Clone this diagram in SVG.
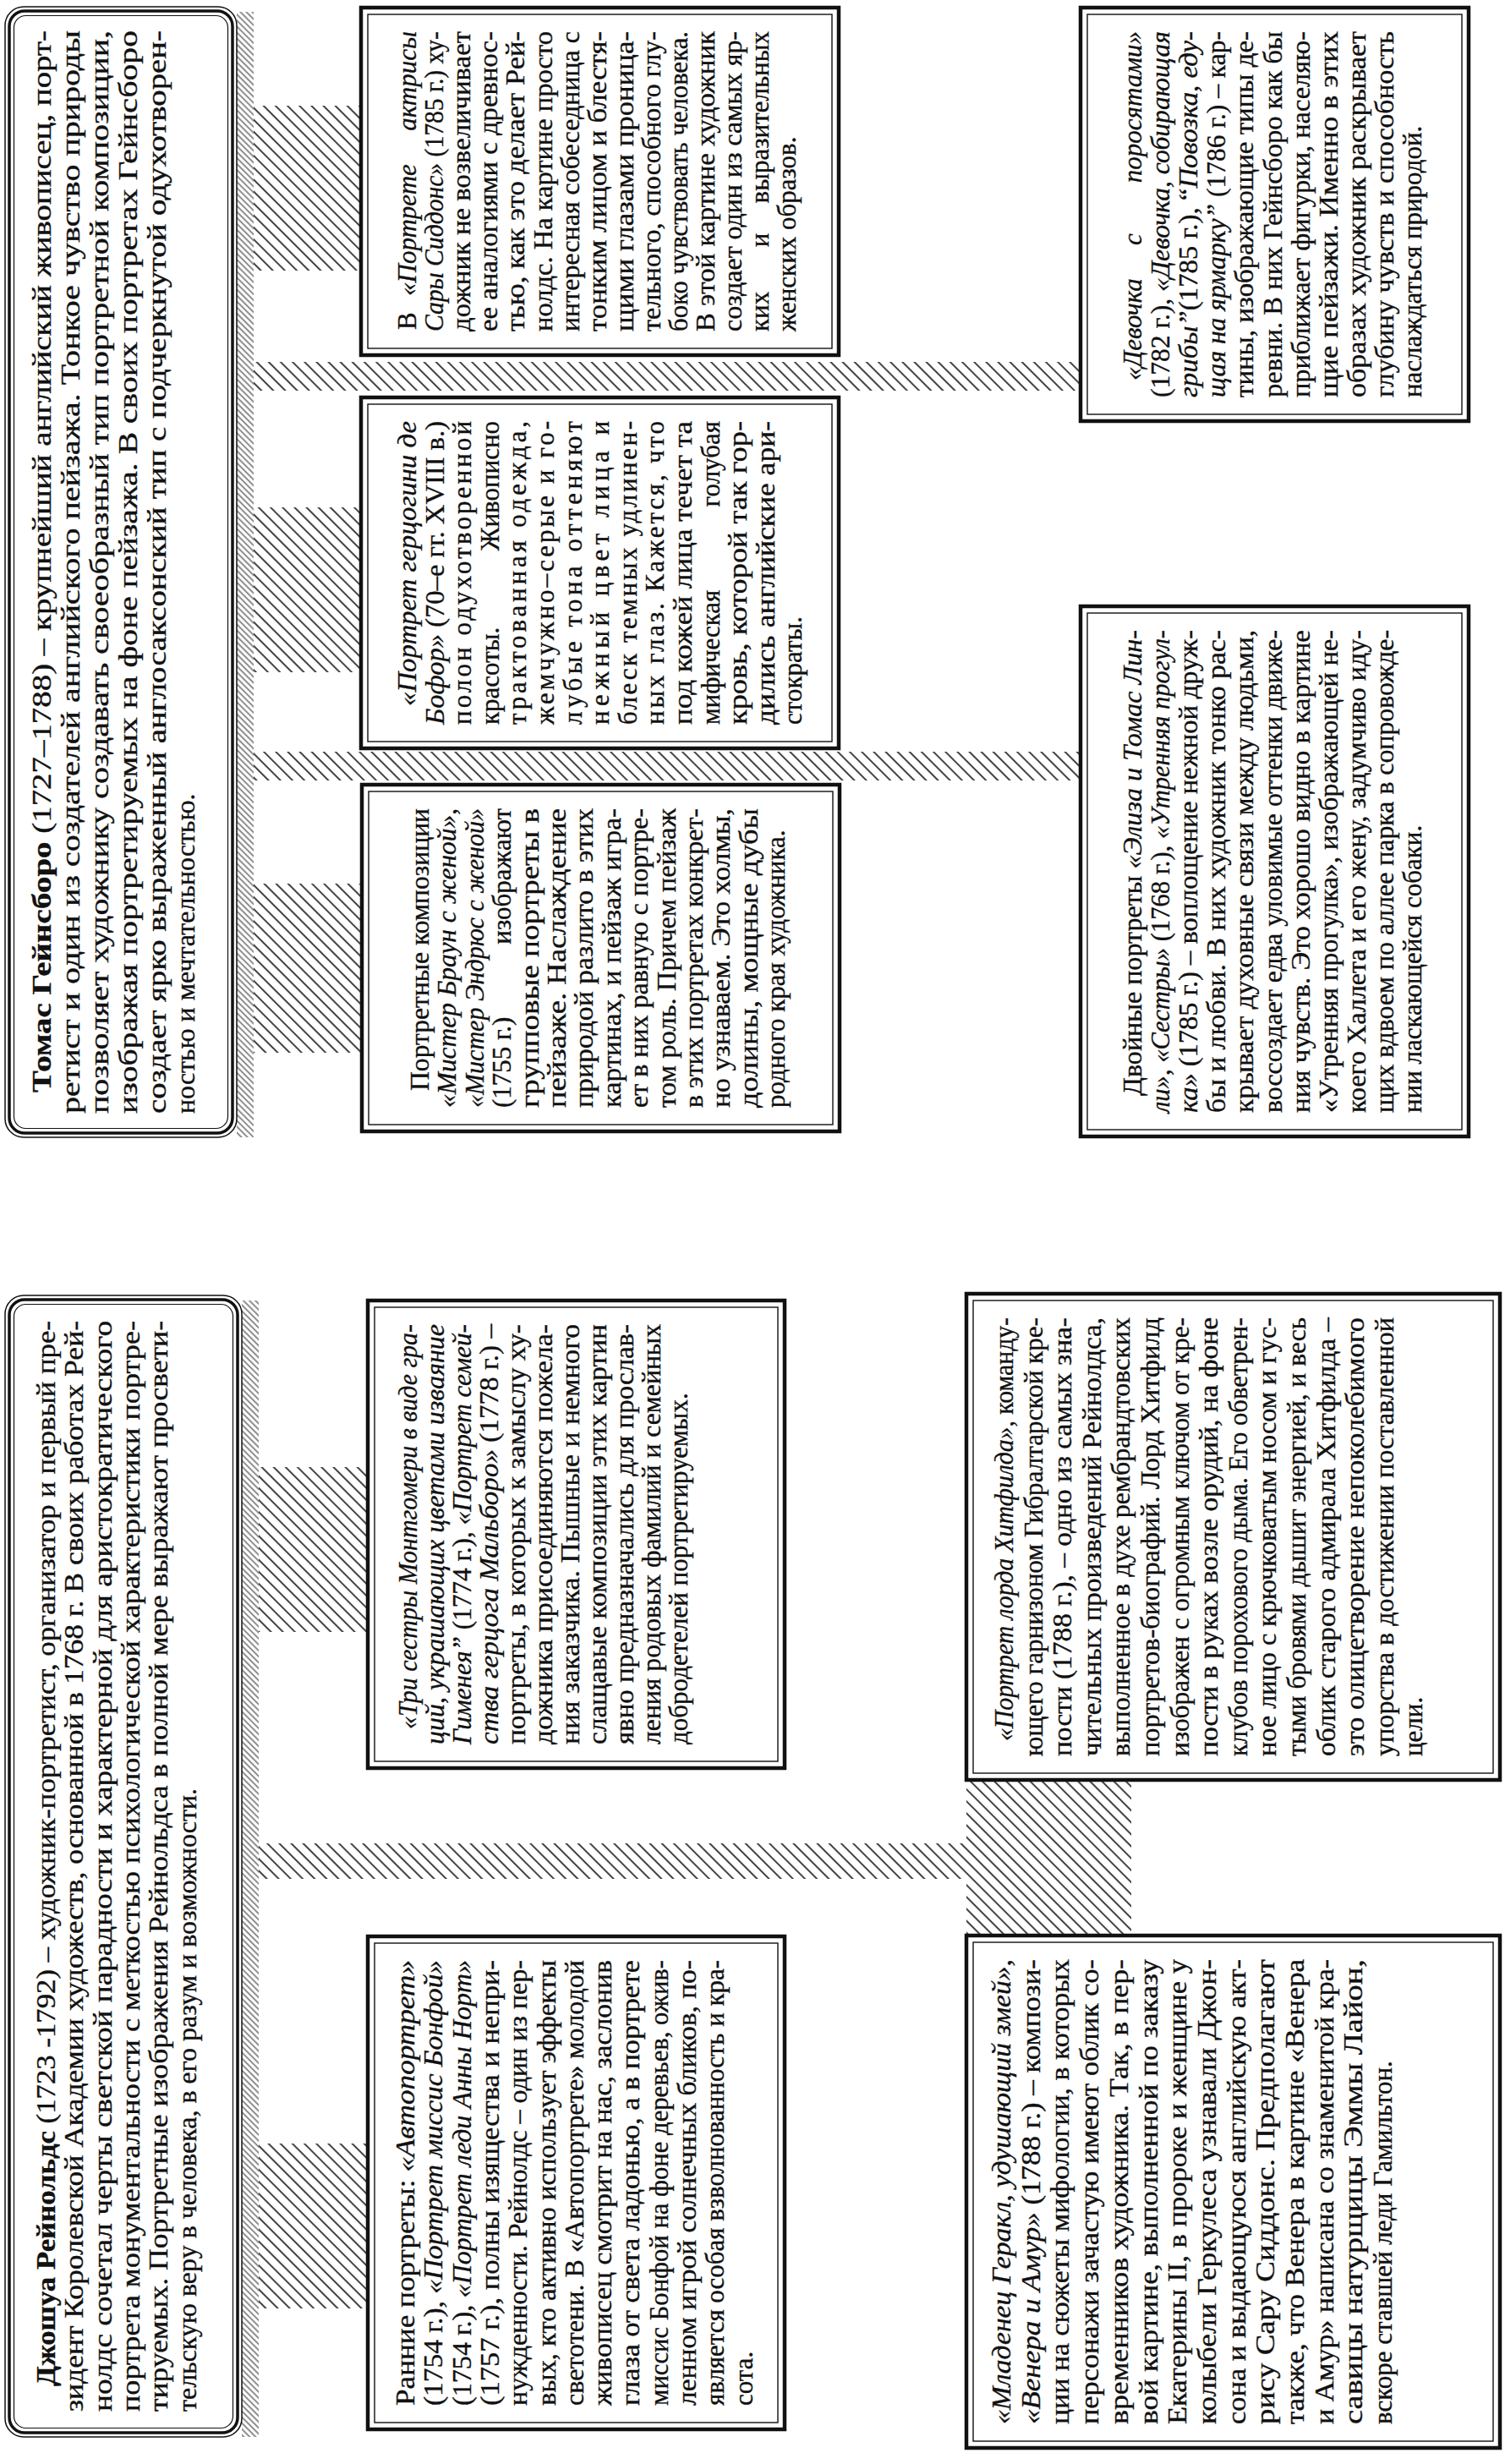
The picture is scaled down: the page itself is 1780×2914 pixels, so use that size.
<svg xmlns="http://www.w3.org/2000/svg" width="1780" height="2914" viewBox="0 0 1780 2914">
<defs>
<style>
.t{font-family:"Liberation Serif","Times New Roman",serif;font-size:31px;fill:#111;stroke:#111;stroke-width:0.35}
.tt{font-family:"Liberation Serif","Times New Roman",serif;font-size:32px;fill:#111;stroke:#111;stroke-width:0.35}
.i{font-style:italic}
.b{font-weight:bold}
.bo{fill:#fff;stroke:#111;stroke-width:4.5}
.bi{fill:none;stroke:#111;stroke-width:1.4}
.h{fill:url(#hatch)}
.d{fill:url(#dense)}
</style>
<pattern id="hatch" width="10" height="10" patternUnits="userSpaceOnUse" patternTransform="rotate(-45)"><line x1="2" y1="0" x2="2" y2="10" stroke="#222" stroke-width="1.7"/></pattern>
<pattern id="dense" width="5" height="5" patternUnits="userSpaceOnUse" patternTransform="rotate(-45)"><line x1="1" y1="0" x2="1" y2="5" stroke="#333" stroke-width="1.1"/></pattern>
</defs>
<rect width="1780" height="2914" fill="#fff"/>

<g id="connectors">
<rect class="d" x="280" y="14" width="20" height="1331"/>
<rect class="d" x="286" y="1538" width="20" height="1344"/>
<rect class="h" x="300" y="125" width="127" height="195"/>
<rect class="h" x="300" y="600" width="127" height="195"/>
<rect class="h" x="300" y="1045" width="128" height="200"/>
<rect class="h" x="306" y="1735" width="129" height="195"/>
<rect class="h" x="306" y="2535" width="129" height="195"/>
<rect class="h" x="300" y="428" width="978" height="34"/>
<rect class="h" x="300" y="889" width="978" height="34"/>
<rect class="h" x="306" y="2180" width="837" height="42"/>
<rect class="h" x="1143" y="2105" width="195" height="184"/>
</g>

<g id="gainsborough">
<rect x="6" y="8" width="274" height="1337" rx="22" fill="#fff" stroke="#111" stroke-width="1.5"/>
<rect x="11" y="13" width="264" height="1327" rx="18" fill="none" stroke="#111" stroke-width="3.5"/>
<rect x="16.5" y="18.5" width="253" height="1316" rx="14" fill="none" stroke="#111" stroke-width="1.2"/>
<g class="tt" transform="translate(8,1345) rotate(-90)">
<text x="53" y="52" textLength="1256" lengthAdjust="spacingAndGlyphs"><tspan class="b">Томас Гейнсборо</tspan> (1727–1788) – крупнейший английский живописец, порт-</text>
<text x="28" y="86" textLength="1281" lengthAdjust="spacingAndGlyphs">ретист и один из создателей английского пейзажа. Тонкое чувство природы</text>
<text x="28" y="120" textLength="1281" lengthAdjust="spacingAndGlyphs">позволяет художнику создавать своеобразный тип портретной композиции,</text>
<text x="28" y="154" textLength="1281" lengthAdjust="spacingAndGlyphs">изображая портретируемых на фоне пейзажа. В своих портретах Гейнсборо</text>
<text x="28" y="188" textLength="1281" lengthAdjust="spacingAndGlyphs">создает ярко выраженный англосаксонский тип с подчеркнутой одухотворен-</text>
<text x="28" y="222">ностью и мечтательностью.</text>
</g>
</g>

<g id="reynolds">
<rect x="6" y="1532" width="280" height="1350" rx="22" fill="#fff" stroke="#111" stroke-width="1.5"/>
<rect x="11" y="1537" width="270" height="1340" rx="18" fill="none" stroke="#111" stroke-width="3.5"/>
<rect x="16.5" y="1542.5" width="259" height="1329" rx="14" fill="none" stroke="#111" stroke-width="1.2"/>
<g class="tt" transform="translate(8,2882) rotate(-90)">
<text x="60" y="57" textLength="1260" lengthAdjust="spacingAndGlyphs"><tspan class="b">Джошуа Рейнольдс</tspan> (1723 -1792) – художник-портретист, организатор и первый пре-</text>
<text x="30" y="90.3" textLength="1290" lengthAdjust="spacingAndGlyphs">зидент Королевской Академии художеств, основанной в 1768 г. В своих работах Рей-</text>
<text x="30" y="123.6" textLength="1290" lengthAdjust="spacingAndGlyphs">нолдс сочетал черты светской парадности и характерной для аристократического</text>
<text x="30" y="156.9" textLength="1290" lengthAdjust="spacingAndGlyphs">портрета монументальности с меткостью психологической характеристики портре-</text>
<text x="30" y="190.2" textLength="1290" lengthAdjust="spacingAndGlyphs">тируемых. Портретные изображения Рейнольдса в полной мере выражают просвети-</text>
<text x="30" y="223.5">тельскую веру в человека, в его разум и возможности.</text>
</g>
</g>

<g id="siddons">
<rect class="bo" x="427" y="9" width="565" height="411"/>
<rect class="bi" x="435" y="17" width="549" height="395"/>
<g class="t" transform="translate(429,420) rotate(-90)">
<text x="30" y="63">В</text><text x="70" y="63" class="i">«Портрете</text><text x="383" y="63" class="i" text-anchor="end">актрисы</text>
<text x="28" y="95.1" textLength="355" lengthAdjust="spacingAndGlyphs"><tspan class="i">Сары Сиддонс»</tspan> (1785 г.) ху-</text>
<text x="28" y="127.2" textLength="355" lengthAdjust="spacingAndGlyphs">дожник не возвеличивает</text>
<text x="28" y="159.3" textLength="355" lengthAdjust="spacingAndGlyphs">ее аналогиями с древнос-</text>
<text x="28" y="191.4" textLength="355" lengthAdjust="spacingAndGlyphs">тью, как это делает Рей-</text>
<text x="28" y="223.5" textLength="355" lengthAdjust="spacingAndGlyphs">нолдс. На картине просто</text>
<text x="28" y="255.6" textLength="355" lengthAdjust="spacingAndGlyphs">интересная собеседница с</text>
<text x="28" y="287.7" textLength="355" lengthAdjust="spacingAndGlyphs">тонким лицом и блестя-</text>
<text x="28" y="319.8" textLength="355" lengthAdjust="spacingAndGlyphs">щими глазами проница-</text>
<text x="28" y="351.9" textLength="355" lengthAdjust="spacingAndGlyphs">тельного, способного глу-</text>
<text x="28" y="384" textLength="355" lengthAdjust="spacingAndGlyphs">боко чувствовать человека.</text>
<text x="28" y="416.1" textLength="355" lengthAdjust="spacingAndGlyphs">В этой картине художник</text>
<text x="28" y="448.2" textLength="355" lengthAdjust="spacingAndGlyphs">создает один из самых яр-</text>
<text x="28" y="480.3">ких</text><text x="136" y="480.3" text-anchor="middle">и</text><text x="383" y="480.3" text-anchor="end">выразительных</text>
<text x="28" y="512.4">женских образов.</text>
</g>
</g>

<g id="beaufort">
<rect class="bo" x="427" y="470" width="565" height="415"/>
<rect class="bi" x="435" y="478" width="549" height="399"/>
<g class="t" transform="translate(429,885) rotate(-90)">
<text x="50" y="63" textLength="337" lengthAdjust="spacingAndGlyphs" class="i">«Портрет герцогини де</text>
<text x="28" y="95.6" textLength="359" lengthAdjust="spacingAndGlyphs"><tspan class="i">Бофор»</tspan> (70–е гг. XVIII в.)</text>
<text x="28" y="128.2" textLength="359" lengthAdjust="spacing">полон одухотворенной</text>
<text x="28" y="160.8">красоты.</text><text x="387" y="160.8" text-anchor="end">Живописно</text>
<text x="28" y="193.4" textLength="359" lengthAdjust="spacing">трактованная одежда,</text>
<text x="28" y="226" textLength="359" lengthAdjust="spacing">жемчужно–серые и го-</text>
<text x="28" y="258.6" textLength="359" lengthAdjust="spacing">лубые тона оттеняют</text>
<text x="28" y="291.2" textLength="359" lengthAdjust="spacing">нежный цвет лица и</text>
<text x="28" y="323.8" textLength="359" lengthAdjust="spacing">блеск темных удлинен-</text>
<text x="28" y="356.4" textLength="359" lengthAdjust="spacing">ных глаз. Кажется, что</text>
<text x="28" y="389" textLength="359" lengthAdjust="spacingAndGlyphs">под кожей лица течет та</text>
<text x="28" y="421.6">мифическая</text><text x="387" y="421.6" text-anchor="end">голубая</text>
<text x="28" y="454.2" textLength="359" lengthAdjust="spacingAndGlyphs">кровь, которой так гор-</text>
<text x="28" y="486.8" textLength="359" lengthAdjust="spacingAndGlyphs">дились английские ари-</text>
<text x="28" y="519.4">стократы.</text>
</g>
</g>

<g id="group-portraits">
<rect class="bo" x="428" y="928" width="565" height="410"/>
<rect class="bi" x="436" y="936" width="549" height="394"/>
<g class="t" transform="translate(430,1338) rotate(-90)">
<text x="48" y="77" textLength="334" lengthAdjust="spacingAndGlyphs">Портретные композиции</text>
<text x="28" y="109.4" textLength="354" lengthAdjust="spacingAndGlyphs"><tspan class="i">«Мистер Браун с женой»</tspan>,</text>
<text x="28" y="141.8" textLength="354" lengthAdjust="spacingAndGlyphs" class="i">«Мистер Эндрюс с женой»</text>
<text x="28" y="174.2">(1755 г.)</text><text x="382" y="174.2" text-anchor="end">изображают</text>
<text x="28" y="206.6" textLength="354" lengthAdjust="spacingAndGlyphs">групповые портреты в</text>
<text x="28" y="239" textLength="354" lengthAdjust="spacingAndGlyphs">пейзаже. Наслаждение</text>
<text x="28" y="271.4" textLength="354" lengthAdjust="spacingAndGlyphs">природой разлито в этих</text>
<text x="28" y="303.8" textLength="354" lengthAdjust="spacingAndGlyphs">картинах, и пейзаж игра-</text>
<text x="28" y="336.2" textLength="354" lengthAdjust="spacingAndGlyphs">ет в них равную с портре-</text>
<text x="28" y="368.6" textLength="354" lengthAdjust="spacingAndGlyphs">том роль. Причем пейзаж</text>
<text x="28" y="401" textLength="354" lengthAdjust="spacingAndGlyphs">в этих портретах конкрет-</text>
<text x="28" y="433.4" textLength="354" lengthAdjust="spacingAndGlyphs">но узнаваем. Это холмы,</text>
<text x="28" y="465.8" textLength="354" lengthAdjust="spacingAndGlyphs">долины, мощные дубы</text>
<text x="28" y="498.2">родного края художника.</text>
</g>
</g>

<g id="girl-with-pigs">
<rect class="bo" x="1278" y="9" width="459" height="489"/>
<rect class="bi" x="1286" y="17" width="443" height="473"/>
<g class="t" transform="translate(1280,498) rotate(-90)">
<text x="48" y="70" class="i">«Девочка</text><text x="215" y="70" class="i" text-anchor="middle">с</text><text x="461" y="70" class="i" text-anchor="end">поросятами»</text>
<text x="28" y="103.1" textLength="433" lengthAdjust="spacingAndGlyphs">(1782 г.), <tspan class="i">«Девочка, собирающая</tspan></text>
<text x="28" y="136.2" textLength="433" lengthAdjust="spacingAndGlyphs"><tspan class="i">грибы”</tspan>(1785 г.), “<tspan class="i">Повозка, еду-</tspan></text>
<text x="28" y="169.3" textLength="433" lengthAdjust="spacingAndGlyphs"><tspan class="i">щая на ярмарку”</tspan> (1786 г.) – кар-</text>
<text x="28" y="202.4" textLength="433" lengthAdjust="spacingAndGlyphs">тины, изображающие типы де-</text>
<text x="28" y="235.5" textLength="433" lengthAdjust="spacingAndGlyphs">ревни. В них Гейнсборо как бы</text>
<text x="28" y="268.6" textLength="433" lengthAdjust="spacingAndGlyphs">приближает фигурки, населяю-</text>
<text x="28" y="301.7" textLength="433" lengthAdjust="spacingAndGlyphs">щие пейзажи. Именно в этих</text>
<text x="28" y="334.8" textLength="433" lengthAdjust="spacingAndGlyphs">образах художник раскрывает</text>
<text x="28" y="367.9" textLength="433" lengthAdjust="spacingAndGlyphs">глубину чувств и способность</text>
<text x="28" y="401">наслаждаться природой.</text>
</g>
</g>

<g id="double-portraits">
<rect class="bo" x="1278" y="717" width="459" height="627"/>
<rect class="bi" x="1286" y="725" width="443" height="611"/>
<g class="t" transform="translate(1280,1344) rotate(-90)">
<text x="48" y="70" textLength="551" lengthAdjust="spacingAndGlyphs">Двойные портреты <tspan class="i">«Элиза и Томас Лин-</tspan></text>
<text x="28" y="103.1" textLength="571" lengthAdjust="spacingAndGlyphs"><tspan class="i">ли»</tspan>, <tspan class="i">«Сестры»</tspan> (1768 г.), <tspan class="i">«Утренняя прогул-</tspan></text>
<text x="28" y="136.2" textLength="571" lengthAdjust="spacingAndGlyphs"><tspan class="i">ка»</tspan> (1785 г.) – воплощение нежной друж-</text>
<text x="28" y="169.3" textLength="571" lengthAdjust="spacingAndGlyphs">бы и любви. В них художник тонко рас-</text>
<text x="28" y="202.4" textLength="571" lengthAdjust="spacingAndGlyphs">крывает духовные связи между людьми,</text>
<text x="28" y="235.5" textLength="571" lengthAdjust="spacingAndGlyphs">воссоздает едва уловимые оттенки движе-</text>
<text x="28" y="268.6" textLength="571" lengthAdjust="spacingAndGlyphs">ния чувств. Это хорошо видно в картине</text>
<text x="28" y="301.7" textLength="571" lengthAdjust="spacingAndGlyphs">«Утренняя прогулка», изображающей не-</text>
<text x="28" y="334.8" textLength="571" lengthAdjust="spacingAndGlyphs">коего Халлета и его жену, задумчиво иду-</text>
<text x="28" y="367.9" textLength="571" lengthAdjust="spacingAndGlyphs">щих вдвоем по аллее парка в сопровожде-</text>
<text x="28" y="401">нии ласкающейся собаки.</text>
</g>
</g>

<g id="three-sisters">
<rect class="bo" x="435" y="1538" width="493" height="553"/>
<rect class="bi" x="443" y="1546" width="477" height="537"/>
<g class="t" transform="translate(437,2091) rotate(-90)">
<text x="46" y="56" textLength="479" lengthAdjust="spacingAndGlyphs" class="i">«Три сестры Монтгомери в виде гра-</text>
<text x="28" y="88" textLength="497" lengthAdjust="spacingAndGlyphs" class="i">ций, украшающих цветами изваяние</text>
<text x="28" y="120" textLength="497" lengthAdjust="spacingAndGlyphs"><tspan class="i">Гименея”</tspan> (1774 г.), <tspan class="i">«Портрет семей-</tspan></text>
<text x="28" y="152" textLength="497" lengthAdjust="spacingAndGlyphs"><tspan class="i">ства герцога Мальборо»</tspan> (1778 г.) –</text>
<text x="28" y="184" textLength="497" lengthAdjust="spacingAndGlyphs">портреты, в которых к замыслу ху-</text>
<text x="28" y="216" textLength="497" lengthAdjust="spacingAndGlyphs">дожника присоединяются пожела-</text>
<text x="28" y="248" textLength="497" lengthAdjust="spacingAndGlyphs">ния заказчика. Пышные и немного</text>
<text x="28" y="280" textLength="497" lengthAdjust="spacingAndGlyphs">слащавые композиции этих картин</text>
<text x="28" y="312" textLength="497" lengthAdjust="spacingAndGlyphs">явно предназначались для прослав-</text>
<text x="28" y="344" textLength="497" lengthAdjust="spacingAndGlyphs">ления родовых фамилий и семейных</text>
<text x="28" y="376">добродетелей портретируемых.</text>
</g>
</g>

<g id="early-portraits">
<rect class="bo" x="435" y="2290" width="493" height="583"/>
<rect class="bi" x="443" y="2298" width="477" height="567"/>
<g class="t" transform="translate(437,2873) rotate(-90)">
<text x="28" y="53" textLength="527" lengthAdjust="spacingAndGlyphs">Ранние портреты: <tspan class="i">«Автопортрет»</tspan></text>
<text x="28" y="86.3" textLength="527" lengthAdjust="spacingAndGlyphs">(1754 г.), <tspan class="i">«Портрет миссис Бонфой»</tspan></text>
<text x="28" y="119.6" textLength="527" lengthAdjust="spacingAndGlyphs">(1754 г.), <tspan class="i">«Портрет леди Анны Норт»</tspan></text>
<text x="28" y="152.9" textLength="527" lengthAdjust="spacingAndGlyphs">(1757 г.), полны изящества и непри-</text>
<text x="28" y="186.2" textLength="527" lengthAdjust="spacingAndGlyphs">нужденности. Рейнолдс – один из пер-</text>
<text x="28" y="219.5" textLength="527" lengthAdjust="spacingAndGlyphs">вых, кто активно использует эффекты</text>
<text x="28" y="252.8" textLength="527" lengthAdjust="spacingAndGlyphs">светотени. В «Автопортрете» молодой</text>
<text x="28" y="286.1" textLength="527" lengthAdjust="spacingAndGlyphs">живописец смотрит на нас, заслонив</text>
<text x="28" y="319.4" textLength="527" lengthAdjust="spacingAndGlyphs">глаза от света ладонью, а в портрете</text>
<text x="28" y="352.7" textLength="527" lengthAdjust="spacingAndGlyphs">миссис Бонфой на фоне деревьев, ожив-</text>
<text x="28" y="386" textLength="527" lengthAdjust="spacingAndGlyphs">ленном игрой солнечных бликов, по-</text>
<text x="28" y="419.3" textLength="527" lengthAdjust="spacingAndGlyphs">является особая взволнованность и кра-</text>
<text x="28" y="452.6">сота.</text>
</g>
</g>

<g id="heathfield">
<rect class="bo" x="1143" y="1530" width="631" height="575"/>
<rect class="bi" x="1151" y="1538" width="615" height="559"/>
<g class="t" transform="translate(1145,2105) rotate(-90)">
<text x="46" y="53" textLength="501" lengthAdjust="spacingAndGlyphs"><tspan class="i">«Портрет лорда Хитфилда»</tspan>, команду-</text>
<text x="28" y="87.6" textLength="519" lengthAdjust="spacingAndGlyphs">ющего гарнизоном Гибралтарской кре-</text>
<text x="28" y="122.2" textLength="519" lengthAdjust="spacingAndGlyphs">пости (1788 г.), – одно из самых зна-</text>
<text x="28" y="156.8" textLength="519" lengthAdjust="spacingAndGlyphs">чительных произведений Рейнолдса,</text>
<text x="28" y="191.4" textLength="519" lengthAdjust="spacingAndGlyphs">выполненное в духе рембрандтовских</text>
<text x="28" y="226" textLength="519" lengthAdjust="spacingAndGlyphs">портретов-биографий. Лорд Хитфилд</text>
<text x="28" y="260.6" textLength="519" lengthAdjust="spacingAndGlyphs">изображен с огромным ключом от кре-</text>
<text x="28" y="295.2" textLength="519" lengthAdjust="spacingAndGlyphs">пости в руках возле орудий, на фоне</text>
<text x="28" y="329.8" textLength="519" lengthAdjust="spacingAndGlyphs">клубов порохового дыма. Его обветрен-</text>
<text x="28" y="364.4" textLength="519" lengthAdjust="spacingAndGlyphs">ное лицо с крючковатым носом и гус-</text>
<text x="28" y="399" textLength="519" lengthAdjust="spacingAndGlyphs">тыми бровями дышит энергией, и весь</text>
<text x="28" y="433.6" textLength="519" lengthAdjust="spacingAndGlyphs">облик старого адмирала Хитфилда –</text>
<text x="28" y="468.2" textLength="519" lengthAdjust="spacingAndGlyphs">это олицетворение непоколебимого</text>
<text x="28" y="502.8" textLength="519" lengthAdjust="spacingAndGlyphs">упорства в достижении поставленной</text>
<text x="28" y="537.4">цели.</text>
</g>
</g>

<g id="infant-hercules">
<rect class="bo" x="1143" y="2289" width="631" height="606"/>
<rect class="bi" x="1151" y="2297" width="615" height="590"/>
<g class="t" transform="translate(1145,2895) rotate(-90)">
<text x="28" y="50" textLength="550" lengthAdjust="spacingAndGlyphs"><tspan class="i">«Младенец Геракл, удушающий змей»</tspan>,</text>
<text x="28" y="84.7" textLength="550" lengthAdjust="spacingAndGlyphs"><tspan class="i">«Венера и Амур»</tspan> (1788 г.) – компози-</text>
<text x="28" y="119.4" textLength="550" lengthAdjust="spacingAndGlyphs">ции на сюжеты мифологии, в которых</text>
<text x="28" y="154.1" textLength="550" lengthAdjust="spacingAndGlyphs">персонажи зачастую имеют облик со-</text>
<text x="28" y="188.8" textLength="550" lengthAdjust="spacingAndGlyphs">временников художника. Так, в пер-</text>
<text x="28" y="223.5" textLength="550" lengthAdjust="spacingAndGlyphs">вой картине, выполненной по заказу</text>
<text x="28" y="258.2" textLength="550" lengthAdjust="spacingAndGlyphs">Екатерины II, в пророке и женщине у</text>
<text x="28" y="292.9" textLength="550" lengthAdjust="spacingAndGlyphs">колыбели Геркулеса узнавали Джон-</text>
<text x="28" y="327.6" textLength="550" lengthAdjust="spacingAndGlyphs">сона и выдающуюся английскую акт-</text>
<text x="28" y="362.3" textLength="550" lengthAdjust="spacingAndGlyphs">рису Сару Сиддонс. Предполагают</text>
<text x="28" y="397" textLength="550" lengthAdjust="spacingAndGlyphs">также, что Венера в картине «Венера</text>
<text x="28" y="431.7" textLength="550" lengthAdjust="spacingAndGlyphs">и Амур» написана со знаменитой кра-</text>
<text x="28" y="466.4" textLength="550" lengthAdjust="spacingAndGlyphs">савицы натурщицы Эммы Лайон,</text>
<text x="28" y="501.1">вскоре ставшей леди Гамильтон.</text>
</g>
</g>
</svg>
